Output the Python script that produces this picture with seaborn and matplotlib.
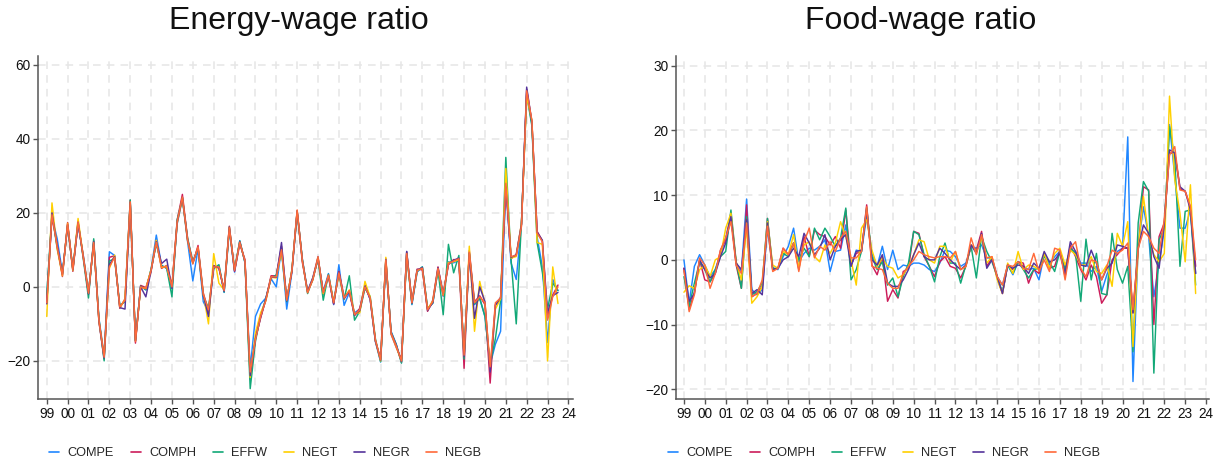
import matplotlib
matplotlib.use("Agg")
import matplotlib.pyplot as plt
from matplotlib.lines import Line2D
import numpy as np
import pandas as pd
import seaborn as sns

# Quarterly observations, 1999Q1 - 2023Q3
quarters = pd.period_range("1999Q1", "2023Q3", freq="Q")
year_ticks = list(range(1999, 2025))
year_labels = [f"{y % 100:02d}" for y in year_ticks]

series_names = ["COMPE", "COMPH", "EFFW", "NEGT", "NEGR", "NEGB"]
series_colors = ["#1f86ff", "#cc1c5a", "#12a877", "#ffd000", "#55349b", "#ff6a3a"]

# Energy-wage ratio (% change)
energy_compe = [
    -3.0, 19.0, 13.0, 3.8, 16.5, 5.0, 17.0, 8.5, -1.2, 11.5,
    -8.5, -18.5, 9.5, 8.5, -5.0, -4.0, 22.5, -14.5, 0.3, -0.8,
    4.8, 14.0, 5.8, 5.0, -0.5, 17.0, 23.8, 12.2, 1.6, 10.3,
    -4.0, -6.8, 5.0, 5.8, -1.5, 15.5, 4.0, 12.5, 6.5, -22.0,
    -8.0, -4.6, -3.0, 2.2, 0.0, 10.5, -6.0, 4.0, 20.3, 7.5,
    -1.2, 2.5, 7.5, -1.2, 3.6, -4.8, 6.0, -5.0, -1.5, -7.0,
    -6.0, 0.5, -3.4, -14.8, -20.3, 7.0, -12.0, -15.5, -20.5, 9.5,
    -4.8, 4.0, 5.4, -5.8, -4.4, 4.5, -2.5, 6.8, 6.5, 7.2,
    -18.0, 9.0, -4.8, -3.2, -8.0, -21.0, -15.5, -12.0, 28.0, 6.5,
    2.0, 17.0, 52.5, 44.0, 13.5, 5.5, -15.0, 2.0, -1.0]
energy_comph = [
    -4.0, 19.0, 11.3, 2.8, 17.4, 4.2, 17.2, 8.4, -2.0, 12.5,
    -9.4, -19.5, 8.0, 8.4, -5.8, -3.2, 23.4, -15.2, 0.4, -0.2,
    4.2, 12.5, 5.0, 5.8, 0.4, 18.0, 25.0, 13.0, 6.2, 11.2,
    -1.6, -6.6, 5.8, 5.0, -0.6, 16.4, 4.2, 11.6, 7.4, -25.0,
    -14.0, -8.4, -3.2, 3.0, 3.0, 11.0, -3.2, 4.2, 20.4, 6.6,
    -1.2, 2.4, 8.2, -2.0, 2.8, -4.6, 4.2, -2.6, -1.4, -7.8,
    -5.8, 0.4, -3.4, -14.6, -19.4, 7.6, -12.8, -16.4, -19.6, 9.4,
    -4.0, 4.8, 4.6, -6.6, -3.6, 5.4, -2.4, 6.0, 7.4, 7.2,
    -22.0, 9.8, -4.0, -2.4, -4.8, -26.0, -4.8, -3.4, 29.0, 7.6,
    8.8, 17.0, 53.4, 44.5, 15.0, 12.5, -8.5, -2.2, 0.5]
energy_effw = [
    -2.0, 19.8, 10.4, 3.6, 16.6, 4.8, 17.8, 7.6, -3.0, 13.0,
    -8.6, -20.0, 7.0, 7.6, -5.0, -4.0, 23.5, -14.4, 0.2, -0.8,
    4.8, 11.6, 5.8, 5.0, -2.7, 18.2, 23.8, 13.2, 6.8, 10.4,
    -2.4, -5.8, 5.0, 6.0, -1.4, 15.6, 4.8, 12.4, 6.6, -27.5,
    -14.8, -7.6, -3.2, 2.4, 3.2, 9.6, -4.0, 4.8, 20.0, 7.4,
    -1.8, 2.2, 7.4, -3.6, 3.4, -4.0, 3.4, -3.4, 3.0, -9.0,
    -6.6, -0.4, -2.6, -14.0, -20.2, 7.0, -12.2, -15.6, -20.6, 8.6,
    -4.6, 4.2, 5.4, -5.8, -4.4, 4.6, -7.5, 11.5, 3.8, 8.5,
    -19.5, 9.0, -4.6, -3.0, -8.0, -21.0, -14.0, -3.8, 35.0, 7.5,
    -10.0, 17.5, 52.0, 43.5, 12.0, 4.0, -6.0, 1.0, -1.0]
energy_negt = [
    -8.0, 22.7, 10.2, 3.0, 17.2, 4.4, 18.5, 8.2, -1.4, 11.6,
    -9.2, -18.6, 5.0, 8.6, -5.6, -3.4, 22.6, -14.6, -0.2, -0.4,
    4.6, 12.6, 5.2, 5.6, 0.2, 17.2, 24.0, 12.4, 6.4, 10.6,
    -1.8, -10.0, 9.0, 1.0, -0.8, 16.2, 4.6, 12.2, 6.8, -24.5,
    -12.5, -7.0, -3.8, 2.6, 2.4, 10.2, -3.4, 4.6, 20.6, 7.2,
    -1.4, 1.8, 8.0, -1.8, 3.0, -4.2, 3.6, -3.2, -0.8, -7.2,
    -7.0, 1.5, -2.8, -14.6, -20.0, 8.0, -12.6, -16.2, -20.2, 9.2,
    -4.2, 4.4, 5.2, -6.0, -3.8, 4.8, -2.2, 6.6, 6.8, 7.4,
    -18.6, 11.0, -12.0, 1.5, -4.6, -22.0, -6.0, -3.2, 32.0, 7.8,
    8.2, 17.2, 51.5, 45.0, 12.0, 11.5, -20.0, 5.4, -4.5]
energy_negr = [
    -4.6, 20.0, 11.0, 3.4, 16.8, 4.6, 17.4, 8.0, -1.9, 12.2,
    -9.2, -19.2, 6.0, 8.2, -5.6, -6.0, 22.8, -14.6, 0.0, -2.7,
    4.4, 12.2, 6.3, 7.5, -0.4, 17.4, 24.2, 12.6, 6.6, 10.6,
    -2.2, -8.0, 5.6, 5.2, -1.2, 16.2, 4.4, 12.2, 6.8, -24.0,
    -14.0, -8.2, -3.4, 2.6, 2.6, 12.0, -3.8, 4.4, 20.6, 7.2,
    -1.4, 2.0, 7.8, -1.4, 3.0, -4.6, 4.0, -3.2, -1.2, -7.6,
    -6.4, 0.2, -3.2, -14.6, -19.8, 7.4, -12.4, -15.8, -20.2, 9.6,
    -4.4, 4.6, 5.2, -6.4, -4.2, 5.2, -1.8, 6.2, 7.2, 7.8,
    -18.8, 9.2, -8.5, 0.0, -4.0, -23.0, -5.0, -2.8, 27.0, 8.0,
    8.6, 16.8, 54.0, 44.5, 14.8, 12.6, -7.0, -2.4, -1.5]
energy_negb = [
    -4.3, 19.5, 10.8, 3.2, 17.0, 4.6, 17.6, 8.0, -1.7, 12.0,
    -9.0, -19.0, 5.4, 8.0, -5.4, -3.6, 23.0, -14.8, 0.0, -0.5,
    4.5, 12.0, 5.4, 5.4, 0.0, 17.6, 24.3, 12.7, 6.5, 10.8,
    -2.0, -6.2, 5.4, 5.4, -1.0, 16.0, 4.5, 12.0, 7.0, -23.0,
    -14.3, -8.0, -3.6, 2.7, 2.7, 10.0, -3.6, 4.5, 20.8, 7.0,
    -1.6, 2.0, 7.9, -1.6, 3.2, -4.3, 3.8, -3.0, -1.0, -7.5,
    -6.2, 0.0, -3.0, -14.3, -19.7, 7.3, -12.5, -16.0, -20.0, 9.0,
    -4.3, 4.5, 5.0, -6.2, -4.0, 5.0, -2.0, 6.3, 7.0, 7.6,
    -18.4, 9.4, -4.3, -2.7, -4.3, -21.6, -4.3, -3.0, 28.0, 8.2,
    8.5, 16.3, 53.0, 45.0, 14.5, 12.2, -9.0, -2.6, 0.0]

# Food-wage ratio (% change)
food_compe = [
    0.0, -6.7, -1.0, 0.8, -0.8, -2.6, -1.5, 1.0, 3.4, 6.7,
    -0.5, -1.8, 9.4, -4.6, -5.4, -4.6, 4.9, -1.3, -1.5, 0.5,
    2.1, 4.9, -0.3, 1.0, 1.8, 1.5, 2.1, 3.1, -1.8, 1.3,
    1.5, 5.4, -1.0, 1.5, 1.3, 6.7, 1.0, -1.0, 2.1, -1.5,
    1.5, -1.5, -0.8, -1.0, -0.5, -0.5, -0.8, -1.5, -1.8, -0.5,
    1.5, 1.3, 0.5, -1.0, -0.5, 2.1, 1.8, 2.3, 0.3, 0.3,
    -2.6, -3.9, -0.8, -2.3, -0.3, -1.0, -1.5, -1.3, -3.1, 0.8,
    -0.8, 0.5, 1.3, -1.3, 1.5, 1.3, -0.5, -0.5, -1.8, -1.0,
    -4.9, -2.3, -0.3, 1.3, 1.8, 19.0, -18.8, 2.1, 8.2, 3.6,
    -5.7, -0.5, 4.6, 20.9, 12.9, 4.9, 4.9, 7.7, -2.1]
food_comph = [
    -1.3, -7.7, -5.0, 0.0, -3.1, -3.4, -2.1, 1.5, 3.1, 7.2,
    -0.8, -4.4, 8.5, -5.7, -5.2, -4.1, 6.4, -1.5, -1.3, 1.8,
    0.8, 2.6, -1.5, 3.6, 0.5, 4.6, 3.9, 3.6, 2.3, 3.6,
    1.8, 7.7, -0.8, 1.0, 1.3, 8.5, -0.8, -2.3, 0.5, -6.4,
    -4.6, -5.9, -1.8, -1.3, 4.4, 4.1, 0.5, -1.0, -2.6, -0.3,
    0.5, -1.0, -1.3, -2.8, -1.0, 2.3, 1.5, 4.4, -1.0, 0.3,
    -2.8, -5.2, -0.8, -1.5, -0.3, -0.5, -3.6, -1.5, -2.1, 0.8,
    -1.3, -1.0, 1.5, -2.6, 2.3, 0.5, -1.5, -3.1, -0.8, -2.6,
    -6.7, -5.4, 0.0, 0.8, 1.8, 1.8, -8.2, 1.5, 11.3, 10.8,
    -10.0, 3.6, 5.7, 16.5, 16.5, 11.0, 10.6, 8.2, -1.0]
food_effw = [
    -2.6, -7.2, -3.6, -0.3, -1.5, -3.4, -1.5, 0.5, 1.3, 7.7,
    -0.3, -4.4, 6.7, -5.4, -4.9, -3.6, 6.4, -1.3, -1.3, 1.0,
    0.5, 2.6, 0.0, 1.8, 0.5, 4.9, 3.1, 4.9, 3.6, 2.1,
    3.4, 8.0, -3.1, -1.5, 1.3, 8.0, 0.5, -1.5, -0.3, -3.9,
    -2.8, -5.7, -2.6, -0.5, 4.4, 3.9, 0.8, -1.0, -3.4, 0.5,
    2.6, -0.5, -0.5, -3.6, -0.8, 2.1, -2.8, 3.6, 1.3, -0.3,
    -2.6, -5.0, -0.8, -2.1, -0.3, -1.5, -2.8, -1.5, -1.3, 0.5,
    -0.3, -1.8, 1.3, -1.5, 1.8, 1.0, -6.4, 3.2, -3.1, 1.0,
    -5.2, -5.4, 4.1, -1.5, -3.6, -1.0, -14.2, 5.7, 12.1, 10.6,
    -17.5, 3.1, 4.9, 20.6, 15.7, -1.0, 7.5, 7.7, -3.9]
food_negt = [
    -5.0, -4.0, -4.4, -1.5, -0.8, -2.6, 0.0, 0.5, 4.9, 7.2,
    -0.3, -3.1, 5.0, -6.7, -5.7, -4.1, 5.9, -0.8, -1.3, 1.3,
    0.8, 3.9, -1.3, 2.3, 2.8, 0.5, -0.3, 2.3, 1.0, 2.6,
    5.9, 3.6, 0.0, -3.9, 4.9, 6.2, 1.5, -1.0, 0.3, -1.0,
    -1.3, -2.8, -2.3, -1.0, 0.8, 3.1, 2.8, 0.0, -0.5, 2.1,
    2.1, -0.3, 1.3, -1.5, -1.0, 2.3, 1.3, 3.4, -0.5, 0.5,
    -3.1, -5.2, -0.5, -2.1, 1.3, -1.5, -0.8, -1.0, -1.5, 1.0,
    -1.3, 1.0, 1.8, -0.8, 1.5, 0.8, -0.8, -0.8, 0.5, -1.8,
    -2.1, -0.8, -4.1, 4.1, 2.1, 5.9, -13.4, 1.5, 9.8, 3.6,
    0.8, -0.3, 1.0, 25.3, 12.4, 7.2, -0.3, 11.6, -5.2]
food_negr = [
    -1.3, -6.4, -5.2, 0.0, -1.5, -2.8, -2.1, 0.5, 2.6, 6.7,
    -0.5, -1.5, 6.2, -5.2, -4.6, -5.4, 5.7, -1.5, -1.3, 0.0,
    0.5, 1.8, 0.5, 4.1, 2.6, 0.8, 1.8, 3.9, 0.0, 2.1,
    3.1, 3.9, -1.0, 1.3, 1.5, 7.7, 0.0, -0.8, 0.8, -3.6,
    -4.1, -4.1, -3.1, -1.5, 0.8, 2.6, 0.5, 0.0, 0.0, 1.8,
    1.0, 0.0, -0.8, -1.5, -0.8, 2.3, 1.0, 4.1, -1.3, 0.0,
    -2.6, -5.2, -0.8, -1.3, -0.8, -1.0, -2.1, -0.5, -1.3, 1.3,
    -0.3, 0.0, 1.0, -2.1, 2.8, 1.3, -0.8, -1.0, 1.5, -0.5,
    -3.1, -1.3, -0.5, 2.3, 2.1, 1.8, -8.2, 1.8, 5.4, 4.1,
    0.5, -1.3, 5.7, 17.0, 16.5, 11.3, 10.6, 7.7, -2.1]
food_negb = [
    -1.6, -8.0, -5.4, 0.3, -0.8, -4.4, -2.1, 1.5, 3.4, 5.9,
    -0.8, -2.1, 5.7, -5.7, -5.2, -3.1, 5.2, -1.8, -1.3, 1.8,
    0.8, 2.6, -1.8, 2.8, 4.9, 0.3, 2.1, 1.5, 2.8, 1.3,
    3.4, 4.4, 0.3, 0.3, 1.3, 8.2, -1.0, -1.3, -1.5, -3.6,
    -4.4, -4.4, -2.1, -1.0, 0.0, 1.3, 0.8, 0.5, 0.3, 0.5,
    0.5, 0.3, 1.3, -1.5, -1.0, 3.4, 0.8, 3.9, 0.3, 0.5,
    -2.6, -3.9, -0.8, -1.0, -0.3, -1.3, -1.5, 1.0, -1.8, 0.0,
    -1.8, 1.8, 1.5, -3.1, 1.8, 2.8, -1.3, -2.6, 0.0, -0.3,
    -3.1, -1.0, 1.5, 1.0, 1.5, 2.6, -7.7, 1.8, 4.4, 3.6,
    1.8, 1.0, 6.2, 16.2, 17.5, 10.8, 10.6, 8.2, 0.0]

energy = [energy_compe, energy_comph, energy_effw, energy_negt, energy_negr, energy_negb]
food = [food_compe, food_comph, food_effw, food_negt, food_negr, food_negb]

# decimal-year position of each quarter
t = np.asarray(quarters.year + (quarters.quarter - 1) / 4.0, dtype=float)


def long_frame(columns):
    frames = []
    for name, vals in zip(series_names, columns):
        frames.append(pd.DataFrame({"t": t, "value": vals, "series": name}))
    return pd.concat(frames, ignore_index=True)


sns.set_theme(style="white")
plt.rcParams["font.family"] = ["Liberation Sans", "DejaVu Sans"]

palette = dict(zip(series_names, series_colors))

fig = plt.figure(figsize=(12.27, 4.65), dpi=100)
W, H = 1227.0, 465.0
ax_l = fig.add_axes([38 / W, (H - 399) / H, (573 - 38) / W, (399 - 56) / H])
ax_r = fig.add_axes([676 / W, (H - 399) / H, (1209 - 676) / W, (399 - 56) / H])

panels = [
    (ax_l, energy, (1998.58, 2024.22), (-30.3, 62.4), [-20, 0, 20, 40, 60]),
    (ax_r, food, (1998.62, 2024.14), (-21.5, 31.5), [-20, -10, 0, 10, 20, 30]),
]

for ax, cols, xlim, ylim, yticks in panels:
    df = long_frame(cols)
    sns.lineplot(data=df, x="t", y="value", hue="series", hue_order=series_names,
                 palette=palette, linewidth=1.05, estimator=None, sort=False,
                 legend=False, ax=ax)
    ax.set_xlim(*xlim)
    ax.set_ylim(*ylim)
    ax.set_xticks(year_ticks)
    ax.set_xticklabels(year_labels)
    ax.set_yticks(yticks)
    ax.set_xlabel("")
    ax.set_ylabel("")
    ax.grid(True, which="major", axis="both", color="#e6e6e6",
            linestyle=(0, (5, 4)), linewidth=1.1)
    ax.set_axisbelow(True)
    for side in ("top", "right"):
        ax.spines[side].set_visible(False)
    for side in ("left", "bottom"):
        ax.spines[side].set_color("#555555")
        ax.spines[side].set_linewidth(1.1)
    ax.tick_params(axis="both", which="major", direction="out", length=3.5,
                   width=1.0, color="#555555", labelsize=9.8, labelcolor="#111111",
                   pad=2, left=True, bottom=True)

fig.text(299 / W, (H - 21) / H, "Energy-wage ratio", ha="center", va="center",
         fontsize=23, color="#111111")
fig.text(921 / W, (H - 21) / H, "Food-wage ratio", ha="center", va="center",
         fontsize=23, color="#111111")

handles = [Line2D([0], [0], color=c, lw=1.2) for c in series_colors]
for cx in (265 / W, 884 / W):
    fig.legend(handles, series_names, loc="center", bbox_to_anchor=(cx, (H - 453) / H),
               ncol=6, frameon=False, fontsize=9.2, handlelength=0.8,
               handletextpad=0.65, columnspacing=1.3, borderaxespad=0)

fig.savefig("out.png", dpi=100)
